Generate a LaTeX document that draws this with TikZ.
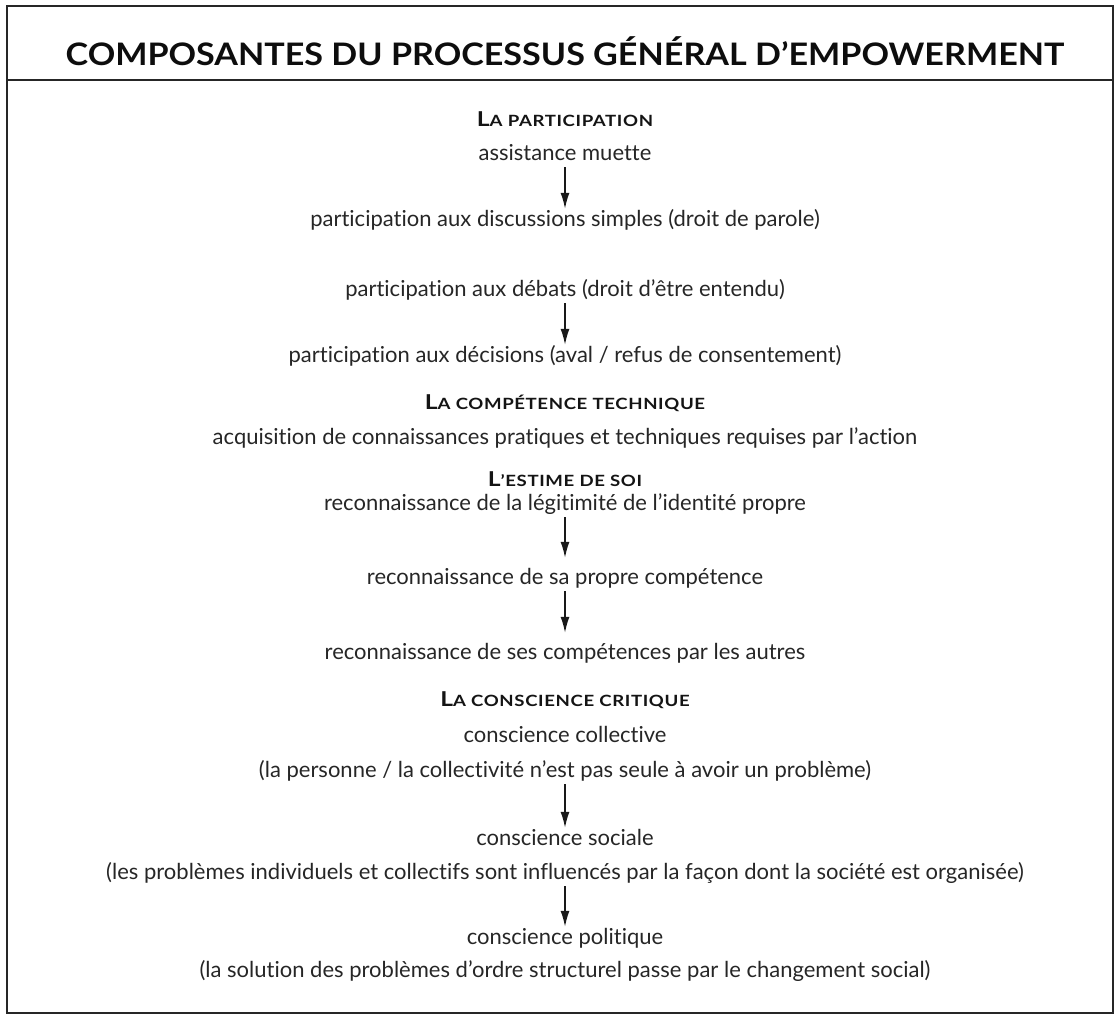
\documentclass[tikz,border=0pt]{standalone}
\usepackage{fontspec}
\setmainfont[Ligatures=NoCommon]{Lato}
\newfontfamily\ttlfont[FakeStretch=1.1]{Lato}
\newfontfamily\hdfont[FakeStretch=1.2,LetterSpace=4]{Lato}
\usetikzlibrary{arrows.meta}
\newcommand{\hdsc}[2]{{\fontsize{20.5}{22}\selectfont #1}{\fontsize{15.5}{17}\selectfont #2}}
\tikzset{
  frame/.style={draw=black!85, line width=1.8pt},
  ttl/.style={anchor=base, inner sep=0pt, text=black!95, font=\ttlfont\fontsize{31}{33}\selectfont\bfseries},
  hd/.style={anchor=base, inner sep=0pt, text=black!92, font=\hdfont\bfseries},
  txt/.style={anchor=base, inner sep=0pt, text=black!85, text height=14pt, text depth=5pt, font=\fontsize{22}{24}\selectfont},
  arr/.style={draw=black!90, line width=1.5pt, -{Latex[length=16pt,width=9pt]}, shorten <=2pt, shorten >=3pt}
}
\begin{document}
\begin{tikzpicture}[x=1pt,y=-1pt]
\useasboundingbox (0,0) rectangle (1116,1017);
\draw[frame] (7,6) rectangle (1113,1013);
\draw[frame] (7,80) -- (1113,80);
\node[ttl] (title) at (565,65) {COMPOSANTES DU PROCESSUS GÉNÉRAL D’EMPOWERMENT};

\node[hd] (h1) at (565,126) {\hdsc{L}{A PARTICIPATION}};
\node[txt] (p1) at (565,160) {assistance muette};
\node[txt] (p2) at (565,226) {participation aux discussions simples (droit de parole)};
\node[txt] (p3) at (565,296) {participation aux débats (droit d’être entendu)};
\node[txt] (p4) at (565,362) {participation aux décisions (aval / refus de consentement)};

\node[hd] (h2) at (565,409) {\hdsc{L}{A COMPÉTENCE TECHNIQUE}};
\node[txt] (c1) at (565,444) {acquisition de connaissances pratiques et techniques requises par l’action};

\node[hd] (h3) at (565,486) {\hdsc{L}{’ESTIME DE SOI}};
\node[txt] (e1) at (565,510) {reconnaissance de la légitimité de l’identité propre};
\node[txt] (e2) at (565,584) {reconnaissance de sa propre compétence};
\node[txt] (e3) at (565,659) {reconnaissance de ses compétences par les autres};

\node[hd] (h4) at (565,706) {\hdsc{L}{A CONSCIENCE CRITIQUE}};
\node[txt] (k1) at (565,742) {conscience collective};
\node[txt] (k1b) at (565,777) {(la personne / la collectivité n’est pas seule à avoir un problème)};
\node[txt] (k2) at (565,845) {conscience sociale};
\node[txt] (k2b) at (565,879) {(les problèmes individuels et collectifs sont influencés par la façon dont la société est organisée)};
\node[txt] (k3) at (565,944) {conscience politique};
\node[txt] (k3b) at (565,977) {(la solution des problèmes d’ordre structurel passe par le changement social)};

\draw[arr] (p1.south) -- (p2.north);
\draw[arr] (p3.south) -- (p4.north);
\draw[arr, shorten >=12pt] (e1.south) -- (e2.north);
\draw[arr, shorten >=12pt] (e2.south) -- (e3.north);
\draw[arr] (k1b.south) -- (k2.north);
\draw[arr] (k2b.south) -- (k3.north);
\end{tikzpicture}
\end{document}
